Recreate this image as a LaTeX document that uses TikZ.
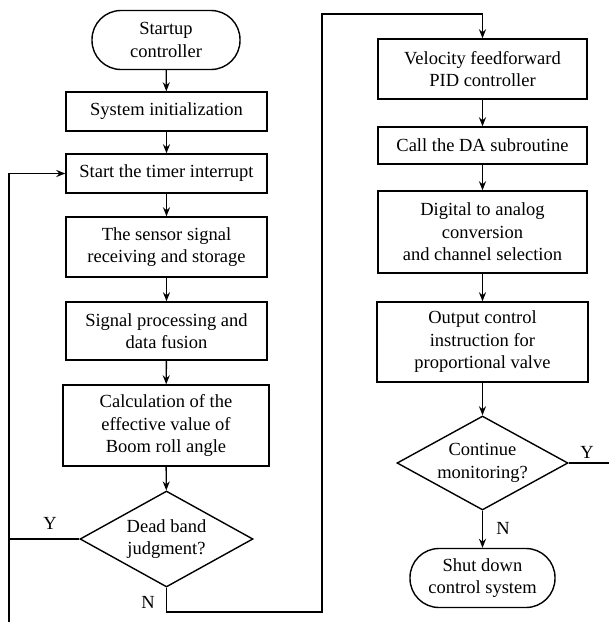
\documentclass[tikz,border=0pt]{standalone}
\usepackage{fontspec}
\setmainfont{Liberation Serif}
\usetikzlibrary{shapes.geometric,arrows.meta}

\begin{document}
\begin{tikzpicture}
[x=1pt,y=-1pt,%
  darkArrow/.style={-{Stealth[length=9pt,width=7pt]},line width=1.4pt},%
  plainLine/.style={line width=1.4pt},%
  boxDecorate/.style={shape=rectangle,draw,line width=1.4pt,align=center,inner sep=2pt},%
  termDecorate/.style={shape=rectangle,rounded corners=29pt,draw,line width=1.4pt,align=center,inner sep=2pt},%
  judgeDecorate/.style={shape=diamond,draw,line width=1.4pt,align=center,inner sep=0pt,aspect=1.8},%
  every node/.style={font=\fontsize{18.5}{22.5}\selectfont}]
\useasboundingbox (0,0) rectangle (609,622);
%% process boxes
\foreach \nodename/\x/\y/\w/\h/\txt in {
  init/166.5/111.5/201/39/{System initialization},
  timer/166.5/173.5/201/39/{Start the timer interrupt},
  sensor/166.5/247/201/60/{The sensor signal\\receiving and storage},
  process/166.5/331/201/58/{Signal processing and\\data fusion},
  calc/166/425.5/206/81/{Calculation of the\\effective value of\\Boom roll angle},
  vel/482.5/69/209/60/{Velocity feedforward\\PID controller},
  callda/482.5/145.5/209/37/{Call the DA subroutine},
  digital/482.5/232/209/82/{Digital to analog\\conversion\\and channel selection},
  output/482.5/342/211/80/{Output control\\instruction for\\proportional valve}}
{
  \node (\nodename) at (\x,\y) [boxDecorate,minimum width=\w,minimum height=\h] {\txt};
}
%% start and end
\foreach \nodename/\x/\y/\w/\txt in {
  start/166/40/148/{Startup\\controller},
  shut/482.5/578/145/{Shut down\\control system}}
{
  \node (\nodename) at (\x,\y) [termDecorate,minimum width=\w,minimum height=59] {\txt};
}
%% decisions
\foreach \nodename/\x/\y/\w/\h/\txt in {
  dead/166.5/539/173/96/{Dead band\\judgment?},
  cont/482.5/463/171/94/{Continue\\monitoring?}}
{
  \node (\nodename) at (\x,\y) [judgeDecorate,minimum width=\w,minimum height=\h] {\txt};
}
%% branch labels
\node (yleft) at (50,523) {Y};
\node (nleft) at (148,602) {N};
\node (yright) at (587,452) {Y};
\node (nright) at (503,528) {N};
%% turning points
\coordinate (loopbot) at (9,622);
\coordinate (nturn) at (322,612);
\coordinate (ntop) at (322,14);
\coordinate (yout) at (609,463);
%% straight flow
\path
\foreach \startnode/\endnode in {start/init, init/timer, timer/sensor, sensor/process,
  process/calc, calc/dead, vel/callda, callda/digital, digital/output, output/cont, cont/shut}
{
  (\startnode) edge[darkArrow] node {} (\endnode)
};
%% loops
\draw[darkArrow] (loopbot) |- (timer.west);
\draw[plainLine] (dead.west) -- (dead.west -| loopbot);
\draw[darkArrow] (dead.south) |- (nturn) -- (ntop) -| (vel.north);
\draw[plainLine] (cont.east) -- (yout);
\end{tikzpicture}
\end{document}
